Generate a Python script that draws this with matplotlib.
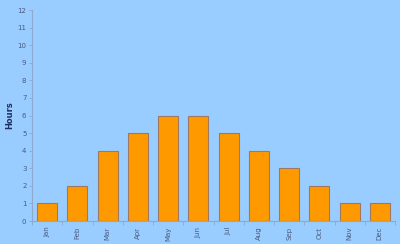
import matplotlib
matplotlib.use('Agg')
import matplotlib.pyplot as plt

months = ['Jan', 'Feb', 'Mar', 'Apr', 'May', 'Jun', 'Jul', 'Aug', 'Sep', 'Oct', 'Nov', 'Dec']
hours = [1, 2, 4, 5, 6, 6, 5, 4, 3, 2, 1, 1]
y_ticks = list(range(0, 13))

bg = '#99ccff'
axis_col = '#8fa8d0'
text_col = '#4a5a80'

fig = plt.figure(figsize=(4, 2.44), dpi=100, facecolor=bg)
ax = fig.add_axes([0.08, 0.094, 0.9075, 0.865], facecolor=bg)

x = range(len(months))
ax.bar(x, hours, width=0.66, color='#ff9900', edgecolor='#a07860', linewidth=0.8, zorder=2)

ax.set_xlim(-0.5, len(months) - 0.5)
ax.set_ylim(0, 12)
ax.set_yticks(y_ticks)
ax.set_yticklabels([str(v) for v in y_ticks], fontsize=5, color=text_col)
ax.set_xticks(list(x))
ax.set_xticklabels(months, rotation=90, fontsize=5, color=text_col)
ax.tick_params(axis='x', length=0, pad=4)
ax.tick_params(axis='y', length=2, width=0.6, color=axis_col, pad=2)

# small ticks between categories on the x axis
ax.set_xticks([i - 0.5 for i in range(len(months) + 1)], minor=True)
ax.tick_params(axis='x', which='minor', length=3, width=0.6, color=axis_col)

for s in ['top', 'right']:
    ax.spines[s].set_visible(False)
for s in ['left', 'bottom']:
    ax.spines[s].set_color(axis_col)
    ax.spines[s].set_linewidth(0.8)

ax.set_ylabel('Hours', fontsize=6, fontweight='bold', color='#1f3060')
ax.yaxis.set_label_coords(-0.05, 0.5)

fig.savefig('out.png', dpi=100, facecolor=bg)
